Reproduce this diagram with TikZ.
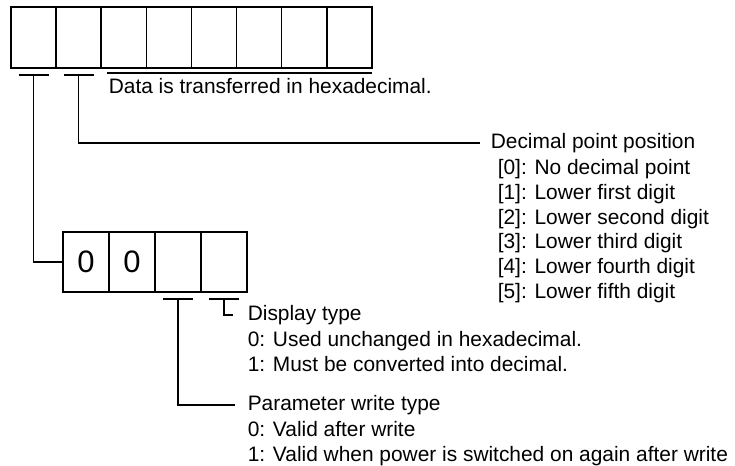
\documentclass[tikz,border=0pt]{standalone}
\usepackage{fontspec}
\setmainfont{Liberation Sans}
\usetikzlibrary{positioning,calc}

\begin{document}
\begin{tikzpicture}[x=1bp, y=-1bp, line width=1.6bp]
		% --- Estilos ---
		\tikzset{
			cell/.style={draw, minimum width=45.1bp, minimum height=61bp, inner sep=0pt, outer sep=0pt},
			digitcell/.style={draw, minimum width=46bp, minimum height=60bp, inner sep=0pt, outer sep=0pt, font=\fontsize{31bp}{31bp}\selectfont},
			bar/.style={line width=2.6bp},
			head/.style={anchor=west, inner sep=0pt, font=\fontsize{20.9bp}{24.8bp}\selectfont},
			notelist/.style={anchor=north west, align=left, inner sep=0pt, font=\fontsize{20.9bp}{24.8bp}\selectfont}
		}
		\useasboundingbox (0,0) rectangle (735,466);
		
		% --- Celdas superiores (8 digitos) ---
		\node[cell] (c1) at (33.55, 37.5) {};
		\foreach \i [remember=\i as \prev (initially 1)] in {2,...,8}
			\node[cell, right=0pt of c\prev] (c\i) {};
		
		% --- Celdas inferiores ---
		\node[digitcell] (s1) at (86, 262) {0};
		\node[digitcell, right=0pt of s1] (s2) {0};
		\node[digitcell, right=0pt of s2] (s3) {};
		\node[digitcell, right=0pt of s3] (s4) {};
		
		% --- Marcas bajo las celdas ---
		\coordinate (t1) at ($(c1.south)+(0,7)$);
		\coordinate (t2) at ($(c2.south)+(0,7)$);
		\coordinate (t3) at ($(s3.south)+(0,7)$);
		\coordinate (t4) at ($(s4.south)+(0,7)$);
		\foreach \t in {t1,t2,t3,t4}
			\draw[bar] ($(\t)+(-15,0)$) -- ($(\t)+(15,0)$);
		\draw[line width=1.2bp] ($(c3.south west)+(6,5)$) -- ($(c8.south east)+(0,5)$);
		
		% --- Textos ---
		\node[head] (hex) at (108, 86) {Data is transferred in hexadecimal.};
		\node[head] (dp) at (490, 143) {Decimal point position};
		\node[notelist] (dplist) at ($(dp.south west)+(7,5)$) {[0]: No decimal point\\{}[1]: Lower first digit\\{}[2]: Lower second digit\\{}[3]: Lower third digit\\{}[4]: Lower fourth digit\\{}[5]: Lower fifth digit};
		\node[head] (disp) at (247, 315) {Display type};
		\node[notelist] (displist) at ($(disp.south west)+(0,5)$) {0: Used unchanged in hexadecimal.\\1: Must be converted into decimal.};
		\node[head] (pwt) at (247, 405) {Parameter write type};
		\node[notelist] (pwtlist) at ($(pwt.south west)+(0,5)$) {0: Valid after write\\1: Valid when power is switched on again after write};
		
		% --- Conectores ---
		\draw (t1) |- (s1.west);
		\draw (t2) |- ([xshift=-10bp]dp.west);
		\draw (t3) |- ([xshift=-12bp]pwt.west);
		\draw (t4) |- ([xshift=-14bp]disp.west);
		
	\end{tikzpicture}
\end{document}
